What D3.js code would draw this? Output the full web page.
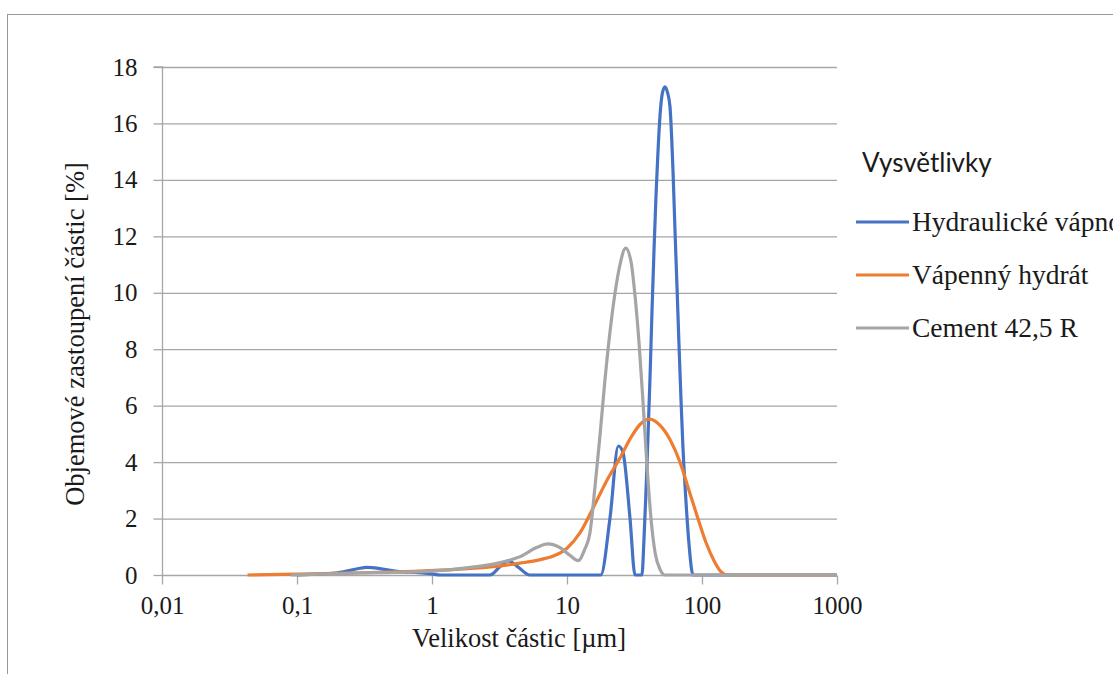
<!DOCTYPE html>
<html>
<head>
<meta charset="utf-8">
<script src="https://cdn.jsdelivr.net/npm/d3@7"></script>
<style>
  body { margin: 0; background: #fff; }
  svg { display: block; }
</style>
</head>
<body>
<svg id="chart" width="1113" height="674"></svg>
<script>
// series: [size µm, volume %]
const hydraulic = [
  [0.1, 0], [0.2, 0.08], [0.28, 0.22], [0.33, 0.27], [0.42, 0.22], [0.55, 0.13],
  [0.8, 0.08], [1.0, 0.04], [1.15, 0], [2.69, 0], [3.2, 0.3], [3.67, 0.5],
  [4.3, 0.3], [5.3, 0], [17.8, 0], [20.8, 2], [24.0, 4.57], [25.9, 4.37],
  [29.3, 2], [31.9, 0], [35.9, 0], [37.2, 1.3], [38.5, 3], [39.8, 4.9],
  [41.2, 7], [42.6, 9.3], [44.1, 11.5], [45.6, 13.4], [47.2, 15], [48.9, 16.3],
  [51.0, 17.1], [53.2, 17.3], [55.5, 17.1], [57.9, 16.6], [61.0, 14.3],
  [63.1, 12.2], [65.3, 10.2], [67.5, 8.2], [69.9, 6.2], [72.3, 4.5],
  [76.1, 2.6], [80.1, 1.1], [85.8, 0], [1000, 0]
];
const limeHydrate = [
  [0.043, 0], [0.1, 0.03], [0.3, 0.08], [0.8, 0.14], [1.5, 0.2], [3, 0.3],
  [4.5, 0.42], [6, 0.52], [7.9, 0.67], [10, 0.95], [12.5, 1.5], [15.7, 2.4],
  [20, 3.4], [24.7, 4.15], [30, 4.9], [35, 5.35], [41.1, 5.52], [48.9, 5.3],
  [57.9, 4.8], [68.7, 4.0], [81.3, 2.9], [93.3, 2.0], [107, 1.15], [123, 0.5],
  [138, 0.12], [155, 0], [1000, 0]
];
const cement = [
  [0.09, 0], [0.15, 0.03], [0.3, 0.07], [0.6, 0.1], [1, 0.14], [2, 0.28],
  [3.2, 0.44], [4.5, 0.65], [6, 0.98], [7.2, 1.1], [9, 0.95], [10.5, 0.7],
  [12.1, 0.51], [13.5, 0.9], [14.8, 1.5], [16.1, 3.1], [17.6, 5.0], [19.1, 6.9],
  [20.8, 8.6], [22.7, 10.0], [24.7, 11.0], [27.2, 11.58], [29.8, 11.1],
  [31.9, 9.9], [34.2, 8.2], [36.6, 6.1], [39.1, 3.9], [41.9, 2.0], [44.9, 0.8],
  [48.9, 0.2], [53.2, 0], [1000, 0]
];

const seriesNames = ["Hydraulické vápno", "Vápenný hydrát", "Cement 42,5 R"];
const seriesColors = ["#4472C4", "#ED7D31", "#A5A5A5"];
const xTicks = [0.01, 0.1, 1, 10, 100, 1000];
const xTickLabels = ["0,01", "0,1", "1", "10", "100", "1000"];
const yTicks = [0, 2, 4, 6, 8, 10, 12, 14, 16, 18];

const serif = "'Liberation Serif', 'Times New Roman', serif";
const textColor = "#1a1a1a";
const gridColor = "#a6a6a6";

const svg = d3.select("#chart");

// outer frame
svg.append("rect")
  .attr("x", 7.5).attr("y", 14.5)
  .attr("width", 1200).attr("height", 700)
  .attr("fill", "none").attr("stroke", "#999");

const x = d3.scaleLog().domain([0.01, 1000]).range([162, 837]);
const y = d3.scaleLinear().domain([0, 18]).range([575, 67]);

// gridlines
svg.append("g")
  .selectAll("line")
  .data(yTicks.filter(d => d > 0))
  .join("line")
  .attr("x1", x(0.01)).attr("x2", x(1000))
  .attr("y1", d => y(d) + 0.5).attr("y2", d => y(d) + 0.5)
  .attr("stroke", gridColor).attr("stroke-width", 1.3);

// y axis
const yAxis = svg.append("g")
  .attr("transform", `translate(${x(0.01) + 0.5},0)`)
  .call(d3.axisLeft(y).tickValues(yTicks).tickSize(9).tickPadding(16).tickFormat(d => d));
yAxis.select(".domain").attr("stroke", gridColor).attr("stroke-width", 1.3).attr("d", `M-9,${y(18)}H0V${y(0)}`);
yAxis.selectAll(".tick line").attr("stroke", gridColor).attr("stroke-width", 1.3);
yAxis.selectAll(".tick text")
  .attr("font-family", serif).attr("font-size", 25).attr("fill", textColor);

// x axis
const xAxis = svg.append("g")
  .attr("transform", `translate(0,${y(0) + 0.5})`)
  .call(d3.axisBottom(x).tickValues(xTicks).tickSize(9).tickPadding(12)
    .tickFormat((d, i) => xTickLabels[i]));
xAxis.select(".domain").attr("stroke", gridColor).attr("stroke-width", 1.3).attr("d", `M${x(0.01)},0H${x(1000)}`);
xAxis.selectAll(".tick line").attr("stroke", gridColor).attr("stroke-width", 1.3);
xAxis.selectAll(".tick text")
  .attr("font-family", serif).attr("font-size", 25).attr("fill", textColor);

// axis titles
svg.append("text")
  .attr("x", 519).attr("y", 647)
  .attr("text-anchor", "middle")
  .attr("font-family", serif).attr("font-size", 26.5).attr("fill", textColor)
  .text("Velikost částic [µm]");

svg.append("text")
  .attr("transform", "translate(84,334) rotate(-90)")
  .attr("text-anchor", "middle")
  .attr("font-family", serif).attr("font-size", 26.5).attr("fill", textColor)
  .text("Objemové zastoupení částic [%]");

// lines
const line = d3.line()
  .x(d => x(d[0]))
  .y(d => y(d[1]))
  .curve(d3.curveMonotoneX);

[hydraulic, limeHydrate, cement].forEach((data, i) => {
  svg.append("path")
    .datum(data)
    .attr("fill", "none")
    .attr("stroke", seriesColors[i])
    .attr("stroke-width", 3.2)
    .attr("stroke-linejoin", "round")
    .attr("d", line);
});

// legend
const legend = svg.append("g");
legend.append("text")
  .attr("x", 862).attr("y", 172)
  .attr("font-family", "Lato, 'Noto Sans', sans-serif").attr("font-size", 26)
  .attr("fill", textColor)
  .text("Vysvětlivky");

const legendItems = legend.selectAll("g.item")
  .data(seriesNames)
  .join("g")
  .attr("class", "item")
  .attr("transform", (d, i) => `translate(0,${222 + i * 53})`);

legendItems.append("line")
  .attr("x1", 856).attr("x2", 909)
  .attr("stroke", (d, i) => seriesColors[i])
  .attr("stroke-width", 3.2);

legendItems.append("text")
  .attr("x", 912).attr("y", 9)
  .attr("font-family", serif).attr("font-size", 27.5).attr("fill", textColor)
  .text(d => d);
</script>
</body>
</html>
